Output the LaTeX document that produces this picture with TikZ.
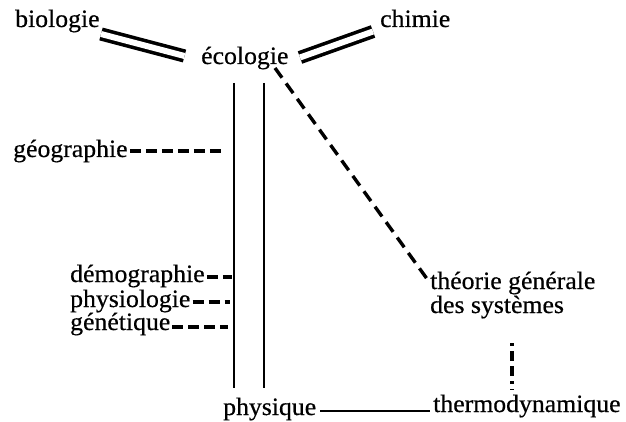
\documentclass[tikz,border=0pt]{standalone}
\usepackage{fontspec}
\setmainfont[FakeBold=0.5,FakeStretch=1.03]{Liberation Serif}
\begin{document}
\begin{tikzpicture}[x=1pt,y=1pt,
  lbl/.style={anchor=base west,inner sep=0pt,font=\fontsize{25}{24}\selectfont},
  dbl/.style={line width=3.6pt,double distance=6pt},
  vline/.style={line width=2.6pt},
  hdash/.style={line width=3.4pt,dash pattern=on 11pt off 5pt},
  ddash/.style={line width=3.4pt,dash pattern=on 12pt off 7pt},
  vdash/.style={line width=3.4pt,dash pattern=on 3pt off 5pt on 10pt off 5pt on 10pt off 5pt},
  solid/.style={line width=1.6pt}]
\useasboundingbox (0,0) rectangle (626,421);
% labels
\node[lbl] (biologie) at (15,394) {biologie};
\node[lbl] (chimie) at (380,394) {chimie};
\node[lbl] (ecologie) at (201,357) {écologie};
\node[lbl] (geographie) at (13,264) {géographie};
\node[lbl] (demographie) at (70,139) {démographie};
\node[lbl] (physiologie) at (70,114) {physiologie};
\node[lbl] (genetique) at (70,91) {génétique};
\node[lbl] (physique) at (223,6) {physique};
\node[lbl] (thermo) at (433,9) {thermodynamique};
\node[lbl,align=left] (theorie) at (430,108) {théorie générale\\des systèmes};
% connector end points
\coordinate (bioE) at (101,387);
\coordinate (ecoW) at (184.5,365);
\coordinate (ecoE) at (300,363.5);
\coordinate (chiW) at (373,389.5);
\coordinate (vlT) at (234,338);
\coordinate (vlB) at (234,33);
\coordinate (vrT) at (264,338);
\coordinate (vrB) at (264,33);
\coordinate (ecoS) at (275,353);
\coordinate (theoN) at (430,138);
\coordinate (theoS) at (512,78);
\coordinate (thermoN) at (512,31);
\coordinate (geoE) at (223,270);
\coordinate (demE) at (232,144);
\coordinate (phyE) at (230,119);
\coordinate (genE) at (228,94);
% connectors
\draw[dbl] (bioE) -- (ecoW);
\draw[dbl] (ecoE) -- (chiW);
\draw[vline] (vlT) -- (vlB);
\draw[vline] (vrT) -- (vrB);
\draw[ddash] (ecoS) -- (theoN);
\draw[vdash] (theoS) -- (thermoN);
\draw[hdash] ([xshift=2pt,yshift=6pt]geographie.base east) -- (geoE);
\draw[hdash] ([xshift=2pt,yshift=5pt]demographie.base east) -- (demE);
\draw[hdash] ([xshift=2pt,yshift=5pt]physiologie.base east) -- (phyE);
\draw[hdash] ([xshift=2pt,yshift=3pt]genetique.base east) -- (genE);
\draw[solid] ([xshift=4pt,yshift=4pt]physique.base east) -- ([xshift=-3pt,yshift=1pt]thermo.base west);
\end{tikzpicture}
\end{document}
